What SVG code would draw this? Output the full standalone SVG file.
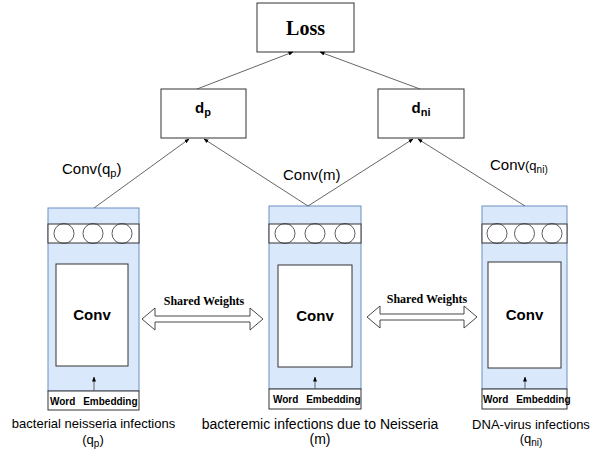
<svg xmlns="http://www.w3.org/2000/svg" width="608" height="452" viewBox="0 0 608 452">
<style>
.box{fill:#fff;stroke:#333;stroke-width:1}
.blue{fill:#dae8fc;stroke:#6c8ebf;stroke-width:1}
.circ{fill:none;stroke:#333;stroke-width:0.8}
.con{stroke:#555;stroke-width:0.9;fill:none;marker-end:url(#ah)}
.sw{fill:#fff;stroke:#333;stroke-width:0.9}
.sans{font-family:"Liberation Sans",Arial,sans-serif;fill:#000}
.serif{font-family:"Liberation Serif","Times New Roman",serif;fill:#000;font-weight:bold}
.conv{font-size:15px;font-weight:bold;text-anchor:middle}
.we{font-size:10px;font-weight:bold;word-spacing:5px}
.lbl{font-size:13px;text-anchor:middle}
.lbl14{font-size:14px;text-anchor:middle}
.cl{font-size:15px}
</style>
<defs>
<marker id="ah" viewBox="0 0 10 10" refX="9" refY="5" markerWidth="5" markerHeight="5" orient="auto" markerUnits="userSpaceOnUse">
<path d="M0,1 L10,5 L0,9 Z" fill="#000"/>
</marker>
</defs>

<g id="loss">
<rect class="box" x="257" y="3" width="97" height="49"/>
<text class="serif" x="305.5" y="35" font-size="20" text-anchor="middle">Loss</text>
</g>
<g id="dp">
<rect class="box" x="161" y="89" width="85" height="49"/>
<text class="sans" x="203" y="113" font-size="15" font-weight="bold" text-anchor="middle">d<tspan font-size="11" dy="3">p</tspan></text>
</g>
<g id="dni">
<rect class="box" x="378" y="89" width="86" height="49"/>
<text class="sans" x="421" y="113" font-size="15" font-weight="bold" text-anchor="middle">d<tspan font-size="11" dy="3">ni</tspan></text>
</g>

<g id="col-qp">
<rect class="blue" x="48" y="208" width="91" height="183"/>
<rect class="box" x="48" y="224" width="91" height="19"/>
<circle class="circ" cx="64" cy="233.5" r="10"/>
<circle class="circ" cx="93" cy="233.5" r="10"/>
<circle class="circ" cx="122" cy="233.5" r="10"/>
<rect class="box" x="56" y="264" width="72" height="102"/>
<text class="sans conv" x="92" y="320">Conv</text>
<rect class="box" x="48" y="391" width="91" height="19"/>
<text class="sans we" x="50" y="405">Word Embedding</text>
</g>
<g id="col-m">
<rect class="blue" x="269" y="206" width="92" height="183"/>
<rect class="box" x="269" y="224" width="92" height="19"/>
<circle class="circ" cx="285" cy="233.5" r="10"/>
<circle class="circ" cx="315" cy="233.5" r="10"/>
<circle class="circ" cx="345" cy="233.5" r="10"/>
<rect class="box" x="278" y="265" width="74" height="102"/>
<text class="sans conv" x="315" y="321">Conv</text>
<rect class="box" x="269" y="389" width="92" height="20"/>
<text class="sans we" x="273" y="403">Word Embedding</text>
</g>
<g id="col-qni">
<rect class="blue" x="482" y="206" width="85" height="183"/>
<rect class="box" x="482" y="224" width="85" height="19"/>
<circle class="circ" cx="497" cy="233.5" r="10"/>
<circle class="circ" cx="524.5" cy="233.5" r="10"/>
<circle class="circ" cx="552" cy="233.5" r="10"/>
<rect class="box" x="488" y="262" width="73" height="106"/>
<text class="sans conv" x="524.5" y="320">Conv</text>
<rect class="box" x="482" y="389" width="85" height="20"/>
<text class="sans we" x="483" y="403">Word Embedding</text>
</g>

<g id="connectors">
<line class="con" x1="197" y1="89" x2="293" y2="52"/>
<line class="con" x1="420" y1="89" x2="320" y2="52"/>
<line class="con" x1="94" y1="208" x2="189" y2="139"/>
<line class="con" x1="308" y1="206" x2="204" y2="139"/>
<line class="con" x1="308" y1="206" x2="413" y2="139"/>
<line class="con" x1="525" y1="206" x2="418" y2="139"/>
<line class="con" x1="94" y1="391" x2="94" y2="377"/>
<line class="con" x1="315" y1="389" x2="315" y2="377"/>
<line class="con" x1="525" y1="389" x2="525" y2="377"/>
<path class="sw" d="M142,319 L155,308 L155,316 L250,316 L250,308 L263,319 L250,330 L250,322 L155,322 L155,330 Z"/>
<path class="sw" d="M367,317 L380,306 L380,314 L464,314 L464,306 L477,317 L464,328 L464,320 L380,320 L380,328 Z"/>
</g>

<g id="labels">
<text class="sans cl" x="62" y="174">Conv(q<tspan font-size="11" dy="3">p</tspan><tspan dy="-3">)</tspan></text>
<text class="sans cl" x="283" y="180">Conv(m)</text>
<text class="sans cl" x="490" y="170">Conv<tspan font-size="13">(q</tspan><tspan font-size="10" dy="3">ni)</tspan></text>
<text class="serif" x="204" y="305" font-size="12" text-anchor="middle">Shared Weights</text>
<text class="serif" x="427" y="303" font-size="12" text-anchor="middle">Shared Weights</text>
<text class="sans lbl" x="93.5" y="428">bacterial neisseria infections</text>
<text class="sans lbl" x="93" y="444">(q<tspan font-size="10" dy="3">p</tspan><tspan dy="-3">)</tspan></text>
<text class="sans lbl14" x="320" y="429">bacteremic infections due to Neisseria</text>
<text class="sans lbl14" x="320" y="444">(m)</text>
<text class="sans lbl" x="531" y="429">DNA-virus infections</text>
<text class="sans lbl" x="531" y="443">(q<tspan font-size="10" dy="3">ni)</tspan></text>
</g>
</svg>
